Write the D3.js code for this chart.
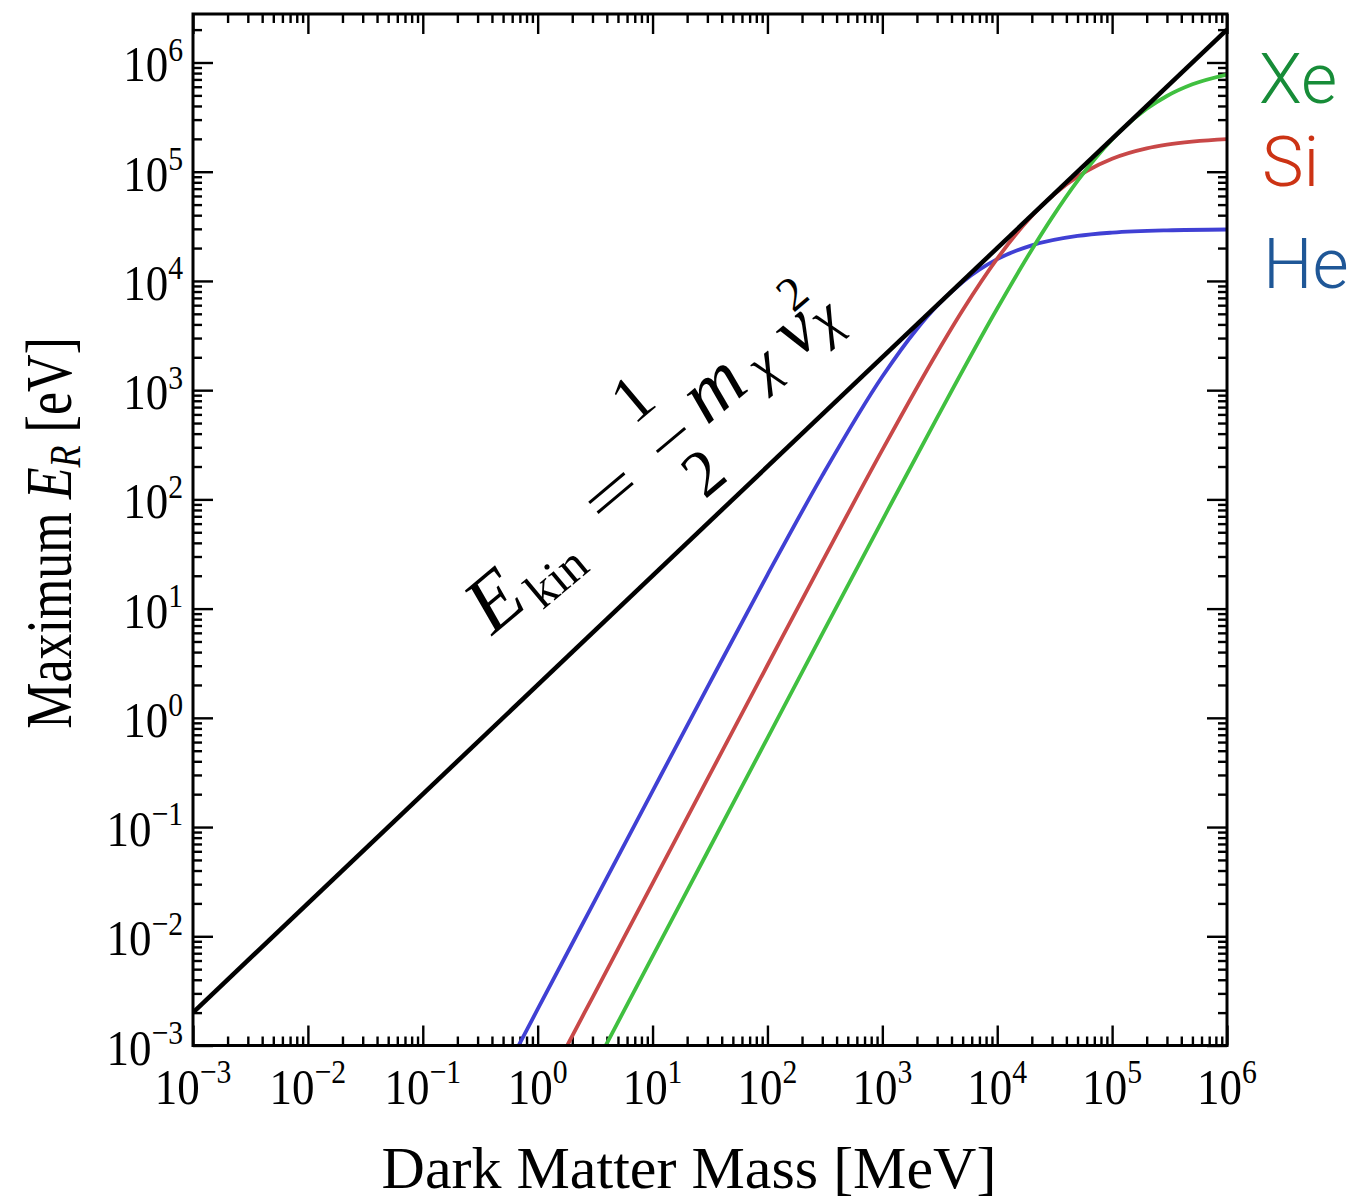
<!DOCTYPE html>
<html><head><meta charset="utf-8">
<script src="https://cdn.jsdelivr.net/npm/d3@7"></script>
<style>body{margin:0;background:#fff} svg{display:block}</style>
</head><body>
<svg id="chart" width="1356" height="1200"></svg>
<script>
// ---------- data ----------
const xDomain = [1e-3, 1e6];          // Dark matter mass [MeV]
const yDomain = [1e-3, 2.78e6];       // Maximum E_R [eV]
const xTickExps = [-3,-2,-1,0,1,2,3,4,5,6];
const yTickExps = [-3,-2,-1,0,1,2,3,4,5,6];

const kinMass = [1e-3, 1e6];
const kinEnergy = [2e-3, 2e6];

const heMass = [0.6, 0.7, 1, 3, 10, 30, 100, 300, 1000, 2000, 3000, 5000, 1e4, 2e4, 5e4, 1e5, 3e5, 1e6];
const heER   = [7.7e-4, 1.05e-3, 2.15e-3, 0.0193, 0.2135, 1.90, 20.4, 165, 1334, 3636, 5930, 9786, 15820, 21180, 25820, 27710, 29090, 29590];

const siMass = [1.6, 1.8, 3, 10, 30, 100, 300, 1000, 3000, 5000, 1e4, 2e4, 2.6e4, 4e4, 6e4, 1e5, 2e5, 3e5, 1e6];
const siER   = [7.8e-4, 9.9e-4, 2.75e-3, 0.0305, 0.2746, 3.03, 26.9, 283.7, 2214, 5388, 16000, 39290, 52000, 76500, 101500, 131500, 163700, 177100, 198800];

const xeMass = [3.5, 4, 10, 30, 100, 300, 1000, 3000, 1e4, 2e4, 3e4, 5e4, 1e5, 1.2e5, 2e5, 3e5, 5e5, 1e6];
const xeER   = [8.0e-4, 1.047e-3, 6.54e-3, 0.0588, 0.653, 5.86, 64.4, 560.8, 5590, 19330, 37960, 82390, 198000, 240000, 376700, 493700, 631600, 776700];

const seriesNames = ["He", "Si", "Xe"];
const seriesMass = [heMass, siMass, xeMass];
const seriesER = [heER, siER, xeER];
const lineColors = ["#4040d4", "#c84848", "#40c040"];
const labelColors = ["#1f5797", "#cc3314", "#178c38"];

// ---------- layout ----------
const L = 193, R = 1227, T = 14, B = 1045.5;
const svg = d3.select("#chart");
const x = d3.scaleLog().domain(xDomain).range([L, R]);
const y = d3.scaleLog().domain(yDomain).range([B, T]);

const serif = "'Liberation Serif','Times New Roman',serif";

svg.append("defs").append("clipPath").attr("id","clip")
  .append("rect").attr("x",L).attr("y",T).attr("width",R-L).attr("height",B-T);

const majorX = xTickExps.map(e => Math.pow(10, e));
const minorX = [];
xTickExps.forEach(e => { for (let k = 2; k <= 9; k++) { const v = k*Math.pow(10,e); if (v < xDomain[1]) minorX.push(v);} });
const majorY = yTickExps.map(e => Math.pow(10, e));
const minorY = [];
yTickExps.forEach(e => { for (let k = 2; k <= 9; k++) { const v = k*Math.pow(10,e); if (v <= yDomain[1]) minorY.push(v);} });

function drawAxis(gen, tx, ty, vals, size) {
  const g = svg.append("g").attr("transform", `translate(${tx},${ty})`)
    .call(gen.tickValues(vals).tickSize(-size).tickFormat(""));
  g.select(".domain").remove();
  g.selectAll(".tick line").attr("stroke","#000").attr("stroke-width",2.4);
}
drawAxis(d3.axisBottom(x), 0, B, majorX, 20);
drawAxis(d3.axisTop(x), 0, T, majorX, 20);
drawAxis(d3.axisBottom(x), 0, B, minorX, 9);
drawAxis(d3.axisTop(x), 0, T, minorX, 9);
drawAxis(d3.axisLeft(y), L, 0, majorY, 20);
drawAxis(d3.axisLeft(y), L, 0, minorY, 9);
drawAxis(d3.axisRight(y), R, 0, majorY, 20);
drawAxis(d3.axisRight(y), R, 0, minorY, 9);

// curves
const line = d3.line().x(d => x(d[0])).y(d => y(d[1])).curve(d3.curveMonotoneX);
const plot = svg.append("g").attr("clip-path","url(#clip)");
seriesNames.forEach((n,i) => {
  const pts = seriesMass[i].map((m,j) => [m, seriesER[i][j]]);
  plot.append("path").datum(pts).attr("d", line)
    .attr("fill","none").attr("stroke", lineColors[i]).attr("stroke-width",3.8);
});
plot.append("path").datum(kinMass.map((m,j)=>[m,kinEnergy[j]])).attr("d", d3.line().x(d=>x(d[0])).y(d=>y(d[1])))
  .attr("fill","none").attr("stroke","#000").attr("stroke-width",4.5);

// frame
svg.append("rect").attr("x",L).attr("y",T).attr("width",R-L).attr("height",B-T)
  .attr("fill","none").attr("stroke","#000").attr("stroke-width",3);

// tick labels
function powLabel(g, e, anchor) {
  const t = g.append("text").attr("font-family", serif).attr("font-size", 50)
    .attr("text-anchor", anchor).attr("fill","#000");
  t.append("tspan").text("10");
  t.append("tspan").attr("font-size", 33).attr("dy", -20).text(e < 0 ? "\u2212" + (-e) : String(e));
}
xTickExps.forEach(e => {
  const g = svg.append("g").attr("transform", `translate(${x(Math.pow(10,e))},1104) scale(0.9,1.03)`);
  powLabel(g, e, "middle");
});
yTickExps.forEach(e => {
  const g = svg.append("g").attr("transform", `translate(183,${y(Math.pow(10,e))+19}) scale(0.9,1.03)`);
  powLabel(g, e, "end");
});

// axis titles
svg.append("text").attr("x", 689).attr("y", 1188).attr("text-anchor","middle")
  .attr("font-family", serif).attr("font-size", 60).text("Dark Matter Mass [MeV]");

const yt = svg.append("g").attr("transform","translate(71,533) rotate(-90) scale(0.8,1)")
  .append("text").attr("text-anchor","middle").attr("font-family", serif).attr("font-size", 65);
yt.append("tspan").text("Maximum ");
yt.append("tspan").attr("font-style","italic").text("E");
yt.append("tspan").attr("font-style","italic").attr("font-size",45).attr("dy",9).text("R");
yt.append("tspan").attr("dy",-9).text(" [eV]");

// series labels
const labelPos = [[1263,288],[1262,186],[1259,103]];
seriesNames.forEach((n,i) => {
  svg.append("text").attr("x", labelPos[i][0]).attr("y", labelPos[i][1])
    .attr("font-family","Roboto,'Open Sans',sans-serif").attr("font-weight",300).attr("font-size",70)
    .attr("fill", labelColors[i]).text(n);
});

// formula annotation E_kin = 1/2 m_chi v_chi^2
const ang = -40;
function glyph(cx, cy, txt, size, italic, h) {
  svg.append("g").attr("transform", `translate(${cx},${cy}) rotate(${ang})`)
    .append("text").attr("y", h*size).attr("text-anchor","middle")
    .attr("font-family", serif).attr("font-size", size)
    .attr("font-style", italic ? "italic" : "normal").text(txt);
}
function bar(cx, cy, len, dy) {
  svg.append("g").attr("transform", `translate(${cx},${cy}) rotate(${ang})`)
    .append("line").attr("x1",-len/2).attr("x2",len/2).attr("y1",dy).attr("y2",dy)
    .attr("stroke","#000").attr("stroke-width",3);
}
glyph(494, 600, "E", 80, true, 0.33);
glyph(556, 577, "kin", 50, false, 0.34);
bar(611, 493, 46, -6.5); bar(611, 493, 46, 6.5);
glyph(632, 398, "1", 66, false, 0.34);
bar(671, 440, 37, 0);
glyph(703, 472, "2", 66, false, 0.34);
glyph(717, 393, "m", 80, true, 0.23);
glyph(770, 374, "\u03C7", 56, true, 0.115);
glyph(799, 335, "v", 76, true, 0.23);
glyph(792, 293, "2", 48, false, 0.34);
glyph(832, 327, "\u03C7", 56, true, 0.115);
</script>
</body></html>
